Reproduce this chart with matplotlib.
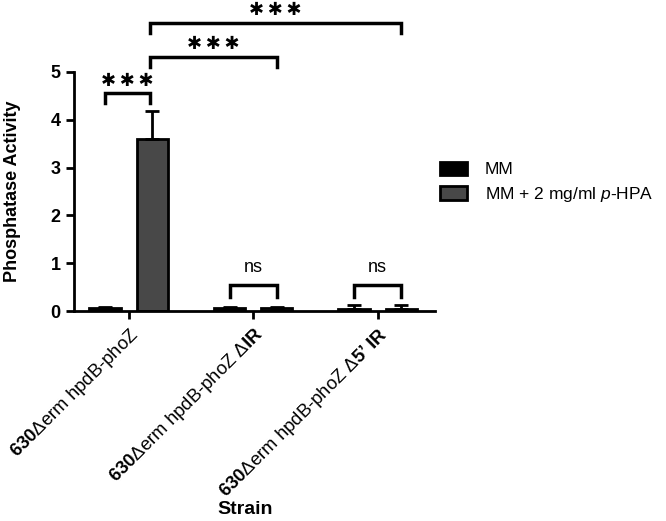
import numpy as np
import matplotlib.pyplot as plt

plt.rcParams['font.family'] = ['Liberation Sans', 'DejaVu Sans']
plt.rcParams['mathtext.fontset'] = 'custom'
plt.rcParams['mathtext.rm'] = 'Liberation Sans'
plt.rcParams['mathtext.bf'] = 'Liberation Sans:bold'
plt.rcParams['mathtext.it'] = 'Liberation Sans:italic'

# data
strains = [r'$\mathbf{630}$$\Delta$erm hpdB-phoZ',
           r'$\mathbf{630}$$\Delta$erm hpdB-phoZ $\Delta\mathbf{IR}$',
           '$\\mathbf{630}$$\\Delta$erm hpdB-phoZ $\\Delta\\mathbf{5\u2019\\ IR}$']
mm = [0.07, 0.07, 0.05]
mm_err = [0.02, 0.02, 0.08]
hpa = [3.6, 0.07, 0.05]
hpa_err = [0.58, 0.02, 0.07]
series = ['MM', 'MM + 2 mg/ml $\\it{p}$-HPA']

fig = plt.figure(figsize=(6.66, 5.21), dpi=100)
ax = fig.add_axes([0.111, 0.403, 0.542, 0.459])

x = np.arange(len(strains))
w = 0.25
off = 0.19
ax.bar(x - off, mm, w, color='black', edgecolor='black', linewidth=2, label=series[0])
ax.bar(x + off, hpa, w, color='#484848', edgecolor='black', linewidth=2, label=series[1])
ax.errorbar(x - off, mm, yerr=[np.zeros(3), mm_err], fmt='none', ecolor='black',
            elinewidth=2, capsize=5, capthick=2)
ax.errorbar(x + off, hpa, yerr=[np.zeros(3), hpa_err], fmt='none', ecolor='black',
            elinewidth=2, capsize=5, capthick=2)

ax.set_ylim(0, 5)
ax.set_xlim(-0.44, 2.46)
ax.spines['top'].set_visible(False)
ax.spines['right'].set_visible(False)
for s in ['left', 'bottom']:
    ax.spines[s].set_linewidth(2)
ax.tick_params(width=2, length=6)
ax.set_yticks([0, 1, 2, 3, 4, 5])
ax.set_yticklabels(['0', '1', '2', '3', '4', '5'], fontsize=13, fontweight='bold')
ax.set_xticks(x)
ax.set_xticklabels(strains, rotation=45, ha='right', rotation_mode='anchor', fontsize=13.3)
ax.set_ylabel('Phosphatase Activity', fontsize=13, fontweight='bold')
ax.yaxis.set_label_coords(-0.147, 0.5)
ax.set_xlabel('Strain', fontsize=14, fontweight='bold')
ax.xaxis.set_label_coords(0.474, -0.796)

def bracket(x1, x2, y, h, text, ty, bold=True):
    ax.plot([x1, x1, x2, x2], [y - h, y, y, y - h], color='black', lw=2.5,
            clip_on=False, solid_joinstyle='miter')
    if bold:
        ax.text((x1 + x2) / 2, ty, text, ha='center', va='center', fontsize=13,
                family='DejaVu Sans', clip_on=False)
    else:
        ax.text((x1 + x2) / 2, ty, text, ha='center', va='center', fontsize=13,
                clip_on=False)

stars = '\u2731\u2009\u2731\u2009\u2731'
bracket(0 - off, 0 + off - 0.02, 4.56, 0.22, stars, 4.82)
bracket(0 + off - 0.02, 1 + off, 5.31, 0.21, stars, 5.58)
bracket(0 + off - 0.02, 2 + off, 6.03, 0.21, stars, 6.29)
bracket(1 - off, 1 + off, 0.54, 0.25, 'ns', 0.9, bold=False)
bracket(2 - off, 2 + off, 0.54, 0.25, 'ns', 0.9, bold=False)

fig.legend(loc='upper left', bbox_to_anchor=(0.66, 0.69), frameon=False,
           fontsize=12.5, handlelength=1.6, handleheight=0.8, labelspacing=0.45,
           borderpad=0, borderaxespad=0, handletextpad=1.0)

plt.savefig('out.png', dpi=100)
